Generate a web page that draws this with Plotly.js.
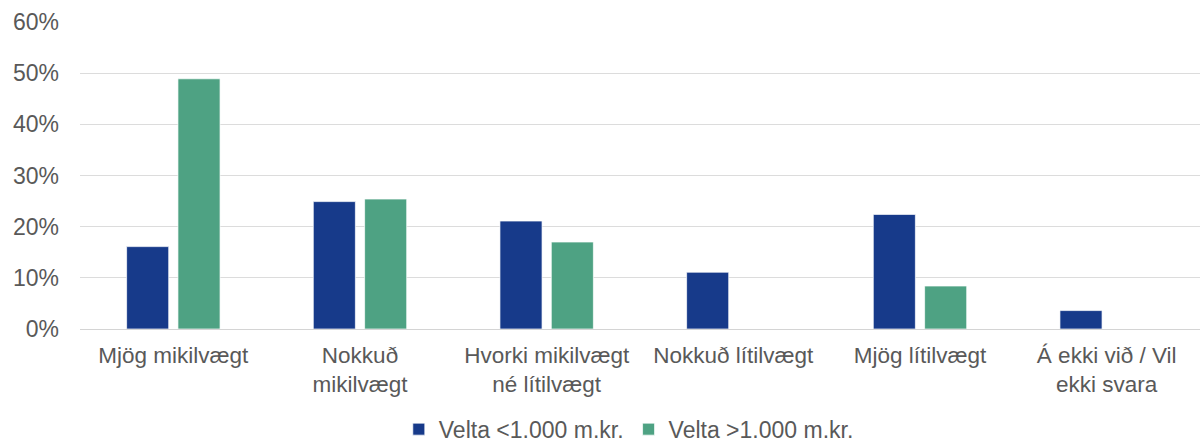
<!DOCTYPE html>
<html>
<head>
<meta charset="utf-8">
<script src="https://cdn.plot.ly/plotly-3.0.1.min.js"></script>
<style>html,body{margin:0;padding:0;background:#fff;}#chart{width:1202px;height:448px;}</style>
</head>
<body>
<div id="chart"></div>
<script>
const categories = [
  "Mjög mikilvægt",
  "Nokkuð<br>mikilvægt",
  "Hvorki mikilvægt<br>né lítilvægt",
  "Nokkuð lítilvægt",
  "Mjög lítilvægt",
  "Á ekki við / Vil<br>ekki svara"
];
const seriesNames = ["Velta <1.000 m.kr.", "Velta >1.000 m.kr."];
const smallCompanies = [0.161, 0.249, 0.211, 0.111, 0.224, 0.036];
const largeCompanies = [0.489, 0.254, 0.170, 0.0, 0.084, 0.0];
const yTicks = [0, 0.1, 0.2, 0.3, 0.4, 0.5, 0.6];

const fontFam = "Liberation Sans, Arial, sans-serif";
const textColor = "#595959";

const traces = [
  {
    type: "bar", name: seriesNames[0], x: categories, y: smallCompanies,
    marker: {color: "#173A8A", line: {color: "rgba(255,255,255,0.7)", width: 1}},
    hoverinfo: "skip"
  },
  {
    type: "bar", name: seriesNames[1], x: categories, y: largeCompanies,
    marker: {color: "#4EA283", line: {color: "rgba(255,255,255,0.7)", width: 1}},
    hoverinfo: "skip"
  }
];

const layout = {
  width: 1202, height: 448,
  margin: {l: 80, r: 2, t: 22, b: 119},
  paper_bgcolor: "#fff", plot_bgcolor: "#fff",
  barmode: "group", bargap: 0.45, bargroupgap: 0.18,
  font: {family: fontFam, color: textColor, size: 22},
  xaxis: {
    type: "category", automargin: false,
    showgrid: false, zeroline: false, showline: false, ticks: "",
    tickfont: {size: 22.5, color: textColor},
    ticklabelstandoff: 10
  },
  yaxis: {
    range: [0, 0.6], tickvals: yTicks, tickformat: ".0%", automargin: false,
    showgrid: true, gridcolor: "#dcdcdc", gridwidth: 1,
    zeroline: true, zerolinecolor: "#d4d4d4", zerolinewidth: 1,
    showline: false, ticks: "",
    tickfont: {size: 23, color: textColor},
    ticklabelstandoff: 20
  },
  showlegend: true,
  legend: {
    orientation: "h", x: 0.49, xanchor: "center",
    yref: "container", y: 0.042, yanchor: "middle",
    font: {size: 23, color: textColor}, itemwidth: 30, traceorder: "normal"
  }
};

Plotly.newPlot("chart", traces, layout, {displayModeBar: false, staticPlot: true});
</script>
</body>
</html>
